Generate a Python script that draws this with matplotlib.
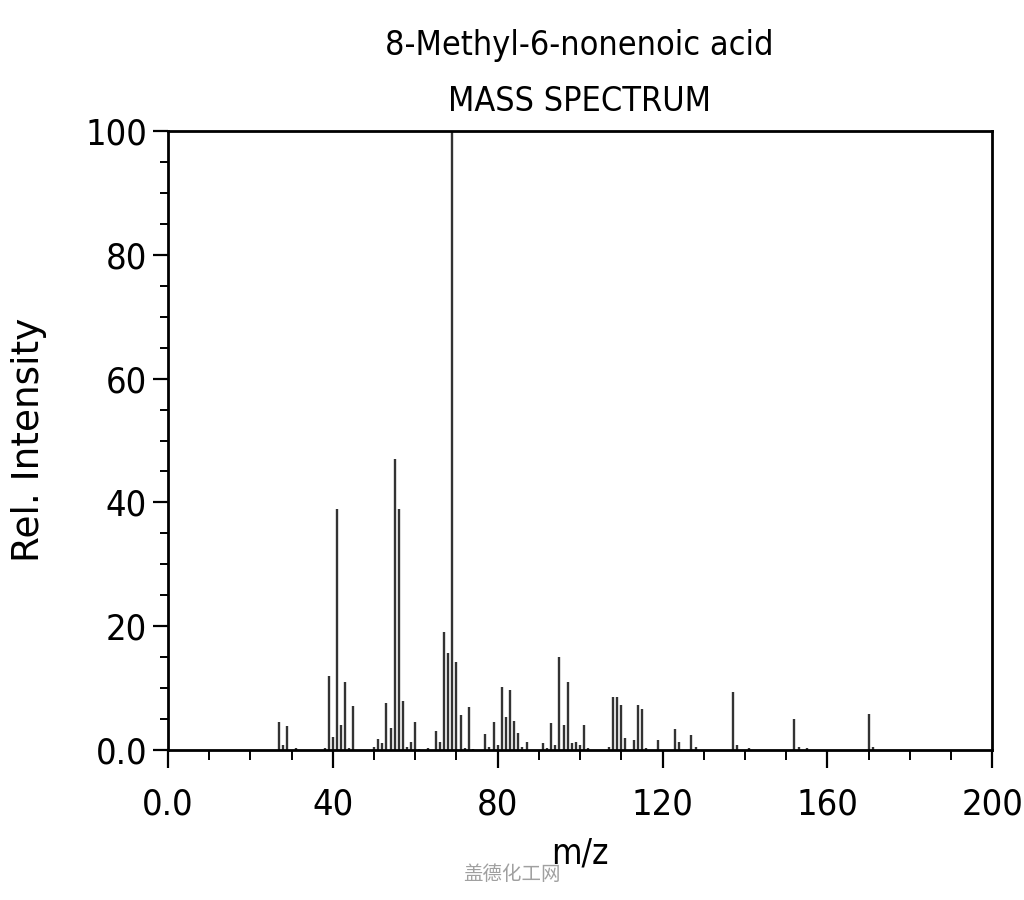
import matplotlib
matplotlib.use("Agg")
import matplotlib.pyplot as plt
from matplotlib.ticker import FixedLocator, MultipleLocator, FixedFormatter

mz = [27, 28, 29, 31, 38, 39, 40, 41, 42, 43, 44, 45, 50, 51, 52, 53, 54, 55, 56, 57,
      58, 59, 60, 61, 63, 65, 66, 67, 68, 69, 70, 71, 72, 73, 74, 77, 78, 79, 80, 81,
      82, 83, 84, 85, 86, 87, 91, 92, 93, 94, 95, 96, 97, 98, 99, 100, 101, 102, 107, 108,
      109, 110, 111, 113, 114, 115, 116, 119, 123, 124, 127, 128, 137, 138, 141, 152, 153, 155, 170, 171]
intensity = [4.5, 0.8, 3.9, 0.3, 0.3, 12.0, 2.1, 38.9, 4.0, 11.0, 0.3, 7.1, 0.5, 1.8, 1.1, 7.6, 3.6, 47.0, 38.9, 7.9,
             0.5, 1.3, 4.5, 0.2, 0.3, 3.0, 1.3, 19.0, 15.6, 100.0, 14.2, 5.7, 0.3, 7.0, 0.2, 2.6, 0.5, 4.5, 0.8, 10.2,
             5.4, 9.7, 4.6, 2.7, 0.4, 1.3, 1.2, 0.3, 4.3, 0.8, 15.0, 4.0, 11.0, 1.1, 1.3, 0.8, 4.0, 0.3, 0.4, 8.5,
             8.5, 7.3, 2.0, 1.6, 7.3, 6.6, 0.3, 1.6, 3.4, 1.3, 2.4, 0.4, 9.4, 0.8, 0.3, 5.0, 0.5, 0.3, 5.8, 0.5]

x_ticks = [0, 40, 80, 120, 160, 200]
x_tick_labels = ["0.0", "40", "80", "120", "160", "200"]
y_ticks = [0, 20, 40, 60, 80, 100]
y_tick_labels = ["0.0", "20", "40", "60", "80", "100"]

title_line1 = "8-Methyl-6-nonenoic acid"
title_line2 = "MASS SPECTRUM"
x_label = "m/z"
y_label = "Rel. Intensity"
watermark = "盖德化工网"

COND = dict(family="DejaVu Sans", fontstretch="condensed")

fig = plt.figure(figsize=(10.24, 9.0), dpi=100)
ax = fig.add_axes([0.164, 0.1667, 0.805, 0.6877])

ax.vlines(mz, 0, intensity, colors="#333333", linewidth=1.7)

ax.set_xlim(0, 200)
ax.set_ylim(0, 100)

ax.xaxis.set_major_locator(FixedLocator(x_ticks))
ax.xaxis.set_major_formatter(FixedFormatter(x_tick_labels))
ax.xaxis.set_minor_locator(MultipleLocator(10))
ax.yaxis.set_major_locator(FixedLocator(y_ticks))
ax.yaxis.set_major_formatter(FixedFormatter(y_tick_labels))
ax.yaxis.set_minor_locator(MultipleLocator(5))

for s in ax.spines.values():
    s.set_linewidth(2.0)
    s.set_color("black")

ax.tick_params(axis="x", which="major", direction="out", length=13, width=1.6, pad=14)
ax.tick_params(axis="x", which="minor", direction="out", length=7, width=1.4)
ax.tick_params(axis="y", which="major", direction="out", length=11, width=1.6, pad=4)
ax.tick_params(axis="y", which="minor", direction="out", length=6, width=1.4)

for lab in ax.get_xticklabels() + ax.get_yticklabels():
    lab.set_fontsize(26)
    lab.set_family("DejaVu Sans")
    lab.set_fontstretch("condensed")

fig.text(0.566, 0.949, title_line1, ha="center", va="center", fontsize=24.5, **COND)
fig.text(0.566, 0.887, title_line2, ha="center", va="center", fontsize=24.5, **COND)
fig.text(0.566, 0.052, x_label, ha="center", va="center", fontsize=25, **COND)
fig.text(0.028, 0.511, y_label, ha="center", va="center", rotation=90, fontsize=27,
         family="DejaVu Sans")
fig.text(0.5, 0.028, watermark, ha="center", va="center", fontsize=14, color="#a0a0a0",
         family=["Noto Sans CJK SC", "DejaVu Sans"])

fig.savefig("out.png", dpi=100, facecolor="white")
